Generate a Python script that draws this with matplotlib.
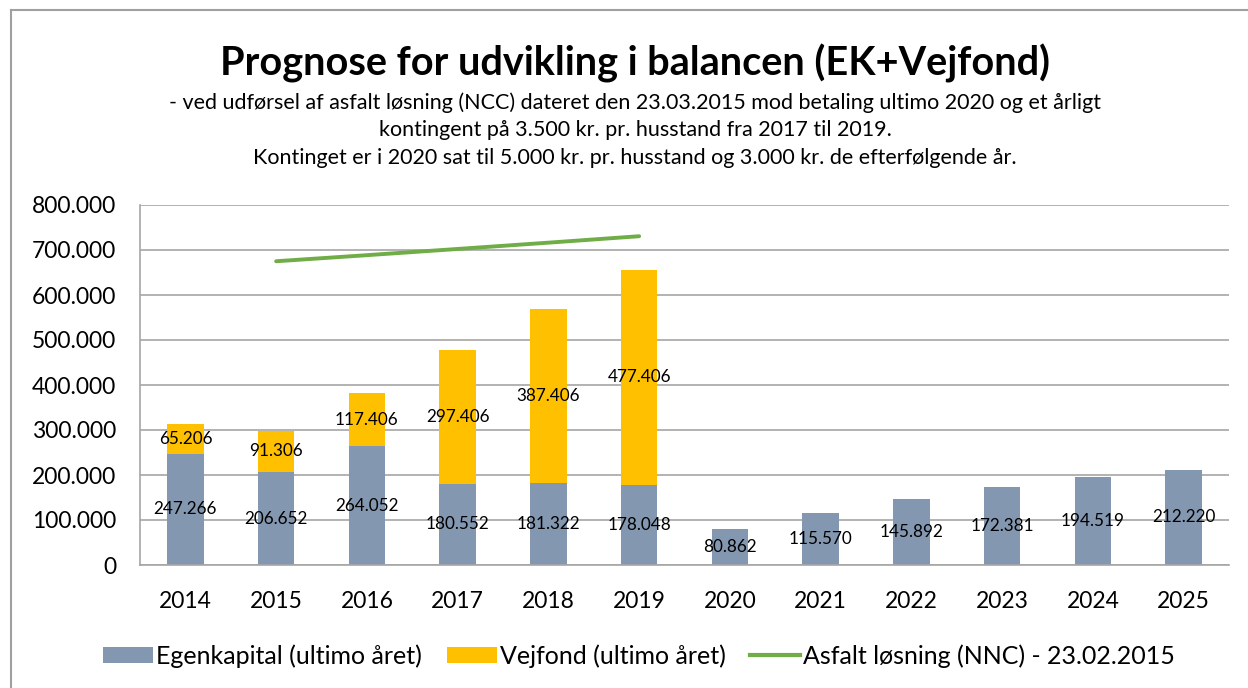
import matplotlib
matplotlib.use('Agg')
import matplotlib.pyplot as plt
from matplotlib.lines import Line2D
from matplotlib.patches import Patch
from matplotlib.ticker import FuncFormatter, MultipleLocator

years = ['2014', '2015', '2016', '2017', '2018', '2019',
         '2020', '2021', '2022', '2023', '2024', '2025']
egenkapital = [247266, 206652, 264052, 180552, 181322, 178048,
               80862, 115570, 145892, 172381, 194519, 212220]
vejfond = [65206, 91306, 117406, 297406, 387406, 477406,
           0, 0, 0, 0, 0, 0]
asfalt_years = ['2015', '2016', '2017', '2018', '2019']
asfalt = [675000, 688500, 702300, 716300, 730600]

title = 'Prognose for udvikling i balancen (EK+Vejfond)'
subtitle = ('- ved udførsel af asfalt løsning (NCC) dateret den 23.03.2015 mod betaling ultimo 2020 og et årligt\n'
            'kontingent på 3.500 kr. pr. husstand fra 2017 til 2019.\n'
            'Kontinget er i 2020 sat til 5.000 kr. pr. husstand og 3.000 kr. de efterfølgende år.')
legend_labels = ['Egenkapital (ultimo året)', 'Vejfond (ultimo året)',
                 'Asfalt løsning (NNC) - 23.02.2015']

C_EK = '#8497B0'
C_VF = '#FFC000'
C_LINE = '#70AD47'
C_GRID = '#A6A6A6'

plt.rcParams['font.family'] = ['Lato', 'DejaVu Sans']

W, H = 1248, 688
fig = plt.figure(figsize=(W / 100, H / 100), dpi=100)

# outer chart frame
fig.add_artist(Line2D([11 / W, 11 / W], [0, 1 - 10 / H], transform=fig.transFigure,
                      color='#A0A0A0', lw=1.5))
fig.add_artist(Line2D([11 / W, 1], [1 - 10 / H, 1 - 10 / H], transform=fig.transFigure,
                      color='#A0A0A0', lw=1.5))

ax = fig.add_axes([140 / W, 1 - 565 / H, 1089 / W, 360 / H])
x = list(range(len(years)))
bw = 0.4
ax.bar(x, egenkapital, width=bw, color=C_EK, zorder=2)
vf_x = [i for i, v in enumerate(vejfond) if v]
ax.bar(vf_x, [vejfond[i] for i in vf_x], bottom=[egenkapital[i] for i in vf_x],
       width=bw, color=C_VF, zorder=2)
ax.plot([years.index(y) for y in asfalt_years], asfalt, color=C_LINE, lw=2.8,
        solid_capstyle='round', zorder=3)

def fmt(v):
    return f'{int(v):,}'.replace(',', '.')

for i in x:
    ax.text(i, egenkapital[i] / 2, fmt(egenkapital[i]), ha='center', va='center',
            fontsize=12.3, color='black', zorder=4)
for i in vf_x:
    ax.text(i, egenkapital[i] + vejfond[i] / 2, fmt(vejfond[i]), ha='center', va='center',
            fontsize=12.3, color='black', zorder=4)

ax.set_xlim(-0.5, len(years) - 0.5)
ax.set_ylim(0, 800000)
ax.yaxis.set_major_locator(MultipleLocator(100000))
ax.yaxis.set_major_formatter(FuncFormatter(lambda v, p: fmt(v)))
ax.set_xticks(x)
ax.set_xticklabels(years)
ax.tick_params(axis='both', length=0, labelsize=16.5, colors='black')
ax.tick_params(axis='x', pad=19)
ax.tick_params(axis='y', pad=17)
ax.grid(axis='y', color=C_GRID, lw=1.2, zorder=0)
ax.set_axisbelow(True)
for s in ['top', 'right']:
    ax.spines[s].set_visible(False)
ax.spines['left'].set_color(C_GRID)
ax.spines['bottom'].set_color(C_GRID)
ax.spines['left'].set_linewidth(1.2)
ax.spines['bottom'].set_linewidth(1.2)

cx = 635 / W
fig.text(cx, 1 - 63 / H, title, ha='center', va='center', fontsize=28.5,
         fontweight='bold')
fig.text(cx, 1 - 130 / H, subtitle, ha='center', va='center', fontsize=15.5,
         linespacing=1.48)

handles = [Patch(facecolor=C_EK, edgecolor='none'),
           Patch(facecolor=C_VF, edgecolor='none'),
           Line2D([], [], color=C_LINE, lw=3)]
fig.legend(handles, legend_labels, loc='center', bbox_to_anchor=(639 / W, 1 - 656 / H),
           ncol=3, frameon=False, fontsize=18, handlelength=2.0, handleheight=0.65,
           handletextpad=0.12, columnspacing=1.0)

fig.savefig('out.png', dpi=100)
